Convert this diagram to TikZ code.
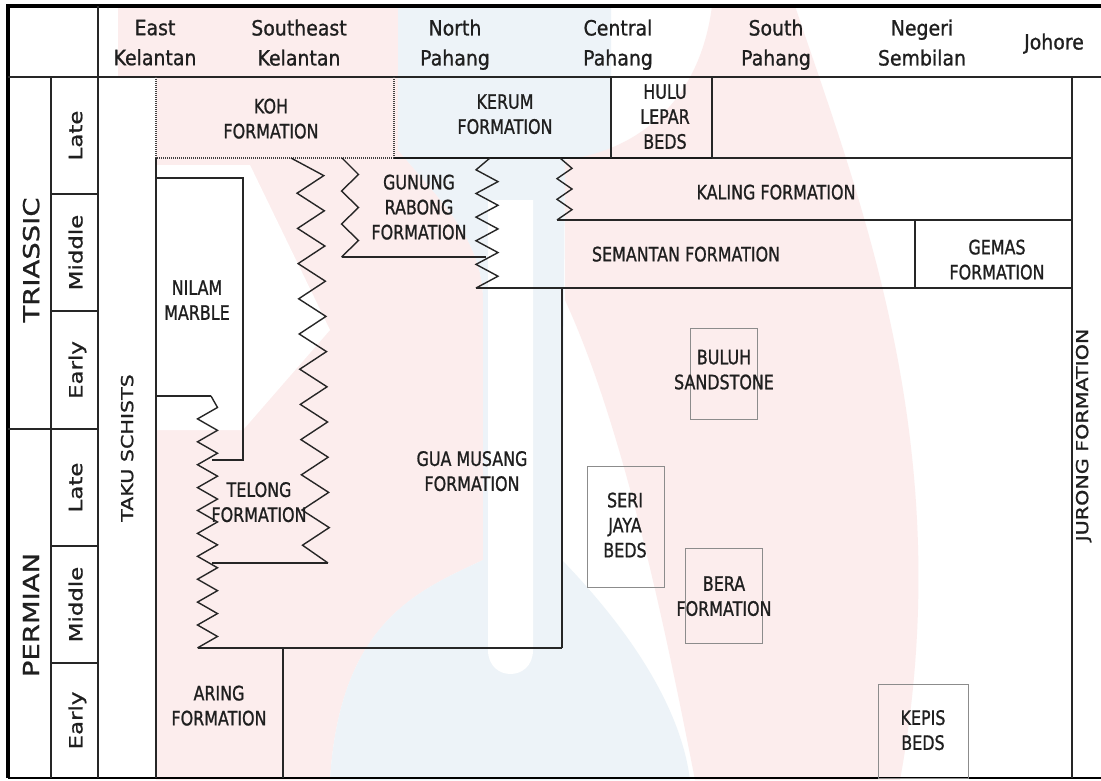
\documentclass[tikz,border=0pt]{standalone}
\usepackage{fontspec}
\setmainfont{DejaVu Sans}
\newfontfamily\hdrfont{DejaVu Sans}[FakeStretch=0.9,FakeBold=1.0]
\newfontfamily\lblfont{DejaVu Sans}[FakeStretch=0.8,FakeBold=1.0]
\newfontfamily\rotfont{DejaVu Sans}[FakeStretch=1.25,FakeBold=1.0]
\definecolor{wmpink}{RGB}{252,237,237}
\definecolor{wmblue}{RGB}{237,243,248}
\begin{document}
\begin{tikzpicture}[x=1pt,y=-1pt,
  ln/.style={line width=1.4pt,draw=black!85,line join=miter},
  fbox/.style={draw=black!45,line width=0.9pt},
  dotl/.style={line width=1.4pt,dash pattern=on 1pt off 1pt,draw=black!75},
  lbl/.style={font=\lblfont\fontsize{19.9}{25}\selectfont,align=center,inner sep=0pt,text depth=0pt,text=black!88},
  hdr/.style={font=\hdrfont\fontsize{21}{30}\selectfont,align=center,inner sep=0pt,text depth=0pt,text=black!88},
  epoch/.style={font=\rotfont\fontsize{18.3}{20}\selectfont,rotate=90,inner sep=0pt,text depth=0pt,text=black!88},
  period/.style={font=\rotfont\fontsize{22}{24}\selectfont,rotate=90,inner sep=0pt,text depth=0pt,text=black!88},
  colname/.style={font=\rotfont\fontsize{16.5}{18}\selectfont,rotate=90,inner sep=0pt,text depth=0pt,text=black!88}
]
\useasboundingbox (0,0) rectangle (1101,780);
\fill[white] (0,0) rectangle (1101,780);

% faint watermark behind the chart
\fill[wmpink] (118,6) -- (398,6) -- (398,150) .. controls (440,200) and (483,240) .. (483,300)
  -- (483,560) .. controls (420,590) and (340,620) .. (330,780) -- (156,780) -- (156,77) -- (118,77) -- cycle;
\fill[white] (156,165) -- (250,165) -- (330,330) -- (243,430) -- (156,430) -- cycle;
\fill[wmblue] (398,6) -- (611,6) -- (611,158) -- (565,158) -- (562,560) .. controls (620,620) and (680,700) .. (690,780)
  -- (330,780) .. controls (340,620) and (420,590) .. (483,560) -- (483,300) .. controls (483,240) and (440,200) .. (398,150) -- cycle;
\fill[white] (488,200) -- (488,650) .. controls (488,682) and (533,682) .. (533,650) -- (533,200) -- cycle;
\fill[wmpink] (712,6) -- (795,6) .. controls (860,200) and (960,450) .. (900,780) -- (695,780)
  .. controls (660,600) and (620,420) .. (565,300) -- (565,160) .. controls (640,150) and (700,100) .. (712,6) -- cycle;

% outer frame
\draw[line width=3.2pt] (8,778) -- (8,6) -- (1101,6);
\draw[line width=2.5pt] (8,778) -- (1101,778);
% header and stratigraphic columns
\draw[ln] (8,77) -- (1101,77);
\draw[ln] (98,6) -- (98,778);
\draw[ln] (51,77) -- (51,778);
\draw[ln] (8,429) -- (98,429);
\foreach \yy in {194,311,546,663} \draw[ln] (51,\yy) -- (98,\yy);

% upper formations
\draw[dotl] (156,77) -- (156,158) -- (394,158);
\draw[dotl] (394,77) -- (394,158);
\draw[line width=1.8pt,draw=black!90] (394,158) -- (712,158);
\draw[ln] (611,77) -- (611,158);
\draw[ln] (712,77) -- (712,158);
\draw[ln] (712,158) -- (1072,158);
\draw[ln] (1072,77) -- (1072,778);
\draw[ln] (156,158) -- (156,778);

% Nilam marble
\draw[ln] (156,178) -- (243,178) -- (243,460) -- (212,460);
\draw[ln] (156,396) -- (211,396);
% Telong / Aring zigzag
\draw[ln] (211,396) \foreach \k in {1,...,22} { -- ({207.5-10*cos(180*\k)},{396+11.45*\k}) };
\draw[ln] (212,563) -- (328,563);
% big zigzag
\draw[ln] (291,158) \foreach \k in {1,...,22} { -- ({310+6*\k/22-13.5*cos(180*\k)},{158+17.6*\k}) } -- (328,563);
% Gunung Rabong
\draw[ln] (342,158) \foreach \k in {1,...,6} { -- ({350-8.5*cos(180*\k)},{158+16.5*\k}) };
\draw[ln] (342,257) -- (486,257);
\draw[ln] (490,158) \foreach \k in {1,...,11} { -- ({487+11*cos(180*\k)},{158+11.82*\k}) };
% Kaling
\draw[ln] (560,158) \foreach \k in {1,...,6} { -- ({564.5-7.5*cos(180*\k)},{158+10.33*\k}) };
\draw[ln] (557,220) -- (1072,220);
\draw[ln] (476,288) -- (1072,288);
\draw[ln] (915,220) -- (915,288);
% Gua Musang
\draw[ln] (562,288) -- (562,648);
\draw[ln] (198,648) -- (562,648);
\draw[ln] (283,648) -- (283,778);
% small boxes
\draw[fbox] (690,328) rectangle (757,419);
\draw[fbox] (587,466) rectangle (664,587);
\draw[fbox] (685,548) rectangle (762,643);
\draw[fbox] (878,684) rectangle (968,778);

% headers
\node[hdr] (h1) at (155,42.5) {East\\Kelantan};
\node[hdr] (h2) at (299,42.5) {Southeast\\Kelantan};
\node[hdr] (h3) at (455,42.5) {North\\Pahang};
\node[hdr] (h4) at (618,42.5) {Central\\Pahang};
\node[hdr] (h5) at (776,42.5) {South\\Pahang};
\node[hdr] (h6) at (922,42.5) {Negeri\\Sembilan};
\node[hdr] (h7) at (1054,41.5) {Johore};

% periods and epochs
\node[period] (tri) at (31,260) {TRIASSIC};
\node[period] (per) at (31,615) {PERMIAN};
\node[epoch] (e1) at (75.5,135.5) {Late};
\node[epoch] (e2) at (75.5,252.5) {Middle};
\node[epoch] (e3) at (75.5,370) {Early};
\node[epoch] (e4) at (75.5,487.5) {Late};
\node[epoch] (e5) at (75.5,604.5) {Middle};
\node[epoch] (e6) at (75.5,720.5) {Early};
\node[colname] (taku) at (127,448) {TAKU SCHISTS};
\node[colname] (jur) at (1082,435) {JURONG FORMATION};

% formation labels
\node[lbl] (koh) at (271,118.5) {KOH\\FORMATION};
\node[lbl] (kerum) at (505,114) {KERUM\\FORMATION};
\node[lbl] (hulu) at (665,116.5) {HULU\\LEPAR\\BEDS};
\node[lbl] (gunung) at (419,207) {GUNUNG\\RABONG\\FORMATION};
\node[lbl] (kaling) at (776,192) {KALING FORMATION};
\node[lbl] (semantan) at (686,254) {SEMANTAN FORMATION};
\node[lbl] (gemas) at (997,259.5) {GEMAS\\FORMATION};
\node[lbl] (nilam) at (197,300) {NILAM\\MARBLE};
\node[lbl] (telong) at (259,502) {TELONG\\FORMATION};
\node[lbl] (gua) at (472,471) {GUA MUSANG\\FORMATION};
\node[lbl] (buluh) at (724,369.5) {BULUH\\SANDSTONE};
\node[lbl] (seri) at (625,525) {SERI\\JAYA\\BEDS};
\node[lbl] (bera) at (724,596) {BERA\\FORMATION};
\node[lbl] (kepis) at (923,730) {KEPIS\\BEDS};
\node[lbl] (aring) at (219,705.5) {ARING\\FORMATION};
\end{tikzpicture}
\end{document}
